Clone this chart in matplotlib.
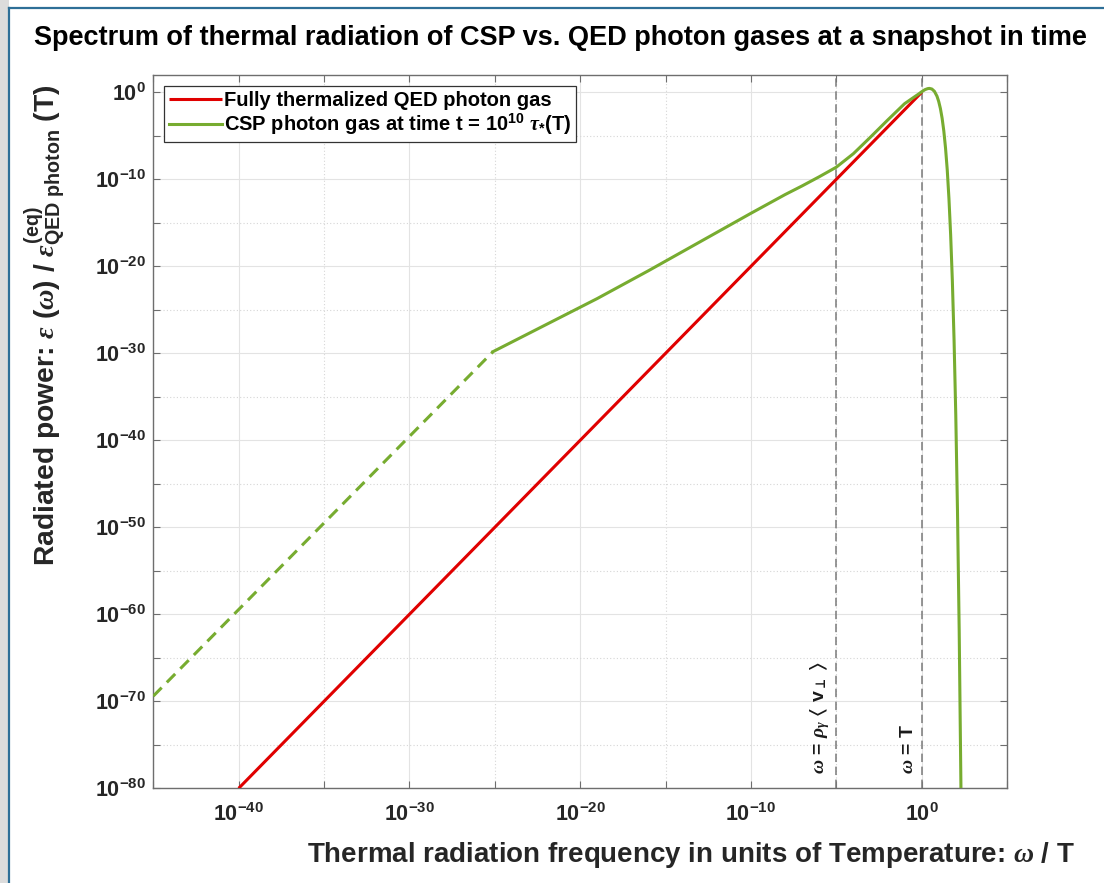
import numpy as np
import matplotlib
matplotlib.use("Agg")
import matplotlib.pyplot as plt
from matplotlib.patches import Rectangle
from matplotlib.lines import Line2D
from matplotlib.ticker import FixedLocator, FixedFormatter, NullFormatter

plt.rcParams['font.family'] = ['Liberation Sans', 'DejaVu Sans']
plt.rcParams['font.weight'] = 'bold'
plt.rcParams['mathtext.fontset'] = 'custom'
plt.rcParams['mathtext.rm'] = 'Liberation Sans:bold'
plt.rcParams['mathtext.bf'] = 'Liberation Sans:bold'
plt.rcParams['mathtext.it'] = 'Liberation Serif:italic'
plt.rcParams['mathtext.fallback'] = 'stix'

# ---------------- data (log10 exponents) ----------------
red_logx = [-40.0, 0.0]
red_logy = [-80.0, 0.0]

green_dash_logx = [-45.0, -25.1]
green_dash_logy = [-69.4, -29.8]

green_logx = [-25.1, -22.0, -19.0, -16.0, -13.0, -10.0, -8.0, -7.0, -6.0, -5.0,
              -4.0, -3.0, -2.0, -1.0, -0.5, -0.2, 0.0, 0.2, 0.35, 0.45, 0.6,
              0.75, 0.9, 1.0, 1.1, 1.2, 1.3, 1.4, 1.5, 1.6, 1.7, 1.8, 1.9,
              2.0, 2.1, 2.2, 2.3, 2.31]
green_logy = [-29.8, -26.7, -23.7, -20.5, -17.2, -13.9, -11.75, -10.75, -9.7, -8.6,
              -7.05, -5.15, -3.2, -1.3, -0.62, -0.22, 0.07, 0.32, 0.43, 0.46, 0.39,
              0.12, -0.44, -1.04, -1.86, -2.97, -4.45, -6.4, -8.9, -12.2, -16.4, -21.7, -28.5,
              -37.1, -48.1, -61.9, -79.5, -81.5]

vline_logx = [-5.0, 0.0]
vline_labels = [r"$\omega$ = $\rho_{\gamma}$ $\langle$ $\mathbf{v}_{\bot}$ $\rangle$",
                r"$\omega$ = T"]

xtick_exp = [-40, -30, -20, -10, 0]
xminor_exp = [-45, -35, -25, -15, -5, 5]
ytick_exp = [-80, -70, -60, -50, -40, -30, -20, -10, 0]
yminor_exp = [-75, -65, -55, -45, -35, -25, -15, -5]

legend_labels = ["Fully thermalized QED photon gas",
                 r"CSP photon gas at time t = 10$^{\mathbf{10}}$ $\tau_{*}$(T)"]

title = "Spectrum of thermal radiation of CSP vs. QED photon gases at a snapshot in time"
xlabel = r"Thermal radiation frequency in units of Temperature: $\omega$ / T"
ylabel = (r"Radiated power: $\epsilon$ ($\omega$) / "
          r"$\epsilon^{\mathbf{(eq)}}_{\mathbf{QED\ photon}}$ (T)")

# ---------------- figure ----------------
W, H = 1104, 883
fig = plt.figure(figsize=(W / 100, H / 100), dpi=100)
fig.patch.set_facecolor('white')

# window frame
fig.patches.append(Rectangle((0, 0), 8.5 / W, 1, transform=fig.transFigure,
                             facecolor='#dcdcdc', edgecolor='none', zorder=0))
fig.lines.append(Line2D([8.5 / W, 8.5 / W], [0, 1 - 8 / H], transform=fig.transFigure,
                        color='#2e6f97', lw=1.6))
fig.lines.append(Line2D([8.5 / W, 1], [1 - 8 / H, 1 - 8 / H], transform=fig.transFigure,
                        color='#2e6f97', lw=1.6))

ax = fig.add_axes([153.3 / W, (H - 788.3) / H, (1007 - 153.3) / W, (788.3 - 75) / H])
ax.set_xscale('log')
ax.set_yscale('log')
ax.set_xlim(10.0 ** -45, 10.0 ** 5)
ax.set_ylim(10.0 ** -80, 10.0 ** 2)

red = '#e00000'
green = '#77ac30'

ax.plot(10.0 ** np.array(red_logx), 10.0 ** np.array(red_logy), color=red, lw=2.2,
        label=legend_labels[0], zorder=3, solid_capstyle='butt')
ax.plot(10.0 ** np.array(green_dash_logx), 10.0 ** np.array(green_dash_logy), color=green,
        lw=2.2, linestyle=(0, (3.9, 2.4)), zorder=4)
ax.plot(10.0 ** np.array(green_logx), 10.0 ** np.array(green_logy), color=green, lw=2.2,
        label=legend_labels[1], zorder=4)

for lx, lab in zip(vline_logx, vline_labels):
    ax.axvline(10.0 ** lx, color='#7a7a7a', lw=1.1, linestyle=(0, (5.5, 3.0)), zorder=2)
    ax.annotate(lab, xy=(10.0 ** lx, 10.0 ** -78.3), xytext=(-3, 0),
                textcoords='offset points', rotation=90, ha='right', va='bottom',
                fontsize=14, color='#1a1a1a')

# ticks
ax.xaxis.set_major_locator(FixedLocator([10.0 ** e for e in xtick_exp]))
ax.xaxis.set_major_formatter(FixedFormatter([r"$\mathbf{10^{%d}}$" % e for e in xtick_exp]))
ax.xaxis.set_minor_locator(FixedLocator([10.0 ** e for e in xminor_exp]))
ax.xaxis.set_minor_formatter(NullFormatter())
ax.yaxis.set_major_locator(FixedLocator([10.0 ** e for e in ytick_exp]))
ax.yaxis.set_major_formatter(FixedFormatter([r"$\mathbf{10^{%d}}$" % e for e in ytick_exp]))
ax.yaxis.set_minor_locator(FixedLocator([10.0 ** e for e in yminor_exp]))
ax.yaxis.set_minor_formatter(NullFormatter())

ax.tick_params(which='both', direction='in', top=True, right=True, color='#6e6e6e',
               labelcolor='#262626', labelsize=15.5)
ax.tick_params(which='major', length=5, width=0.8)
ax.tick_params(which='minor', length=5, width=0.8)
ax.tick_params(axis='x', which='major', pad=11)
ax.tick_params(axis='y', which='major', pad=5)

ax.grid(which='major', color='#e3e3e3', lw=0.8, linestyle='-', zorder=0)
ax.grid(which='minor', color='#d6d6d6', lw=0.8, linestyle=(0, (1, 2)), zorder=0)
ax.set_axisbelow(True)
for s in ax.spines.values():
    s.set_color('#6e6e6e')
    s.set_linewidth(1.0)

leg = ax.legend(loc='upper left', bbox_to_anchor=(0.013, 0.985), fontsize=14.5,
                frameon=True, fancybox=False, edgecolor='#333333', framealpha=1,
                handlelength=2.6, handletextpad=0.1, borderpad=0.25, labelspacing=0.12,
                borderaxespad=0)
leg.get_frame().set_linewidth(0.9)

fig.text(560 / W, 1 - 38 / H, title, ha='center', va='center', fontsize=19.5,
         weight='bold', color='black')
fig.text(691 / W, 1 - 855 / H, xlabel, ha='center', va='center', fontsize=20,
         weight='bold', color='#262626')
fig.text(45 / W, 1 - 325 / H, ylabel, ha='center', va='center', rotation=90,
         fontsize=20.3, weight='bold', color='#262626')

fig.savefig('out.png', dpi=100)
